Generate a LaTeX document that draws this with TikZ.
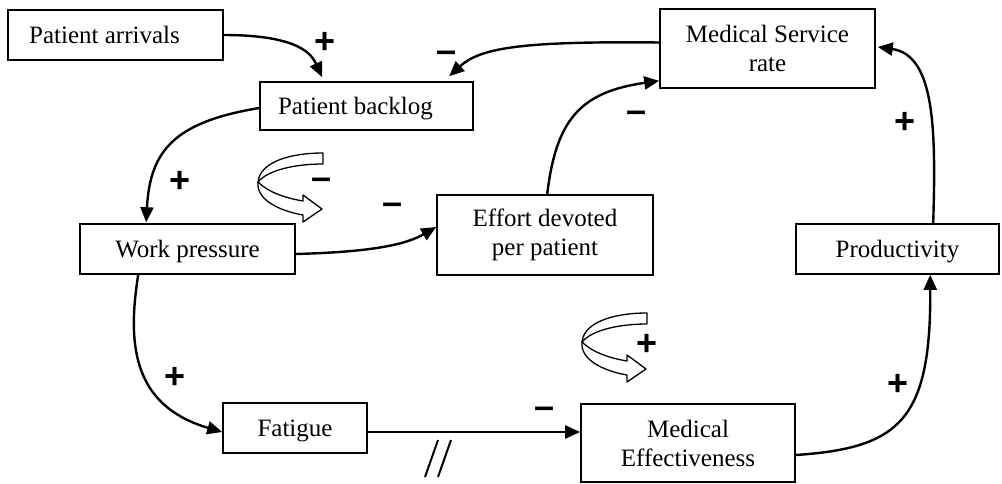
\documentclass[tikz,border=0pt]{standalone}
\usepackage{fontspec}
\setmainfont{Liberation Serif}
\newfontfamily\signfont{Liberation Sans}
\usetikzlibrary{arrows.meta,calc}
\begin{document}
\begin{tikzpicture}[x=1pt,y=-1pt,
  box/.style={draw, line width=1.6pt, inner sep=0pt, align=center, font=\fontsize{25}{29}\selectfont},
  onel/.style={text height=17pt, text depth=0pt},
  conn/.style={line width=2.4pt, -{Triangle[length=15pt,width=13pt]}},
  sgn/.style={font=\signfont\bfseries\fontsize{36}{36}\selectfont, inner sep=0pt},
  slash/.style={line width=2pt},
  loopicon/.pic={
    \draw[line width=1.3pt, fill=white, line join=round]
      (65,-29) -- (65,-18) .. controls (37,-18) and (10,-12) .. (0,0)
      .. controls (2,-20) and (32,-29) .. cycle;
    \draw[line width=1.3pt, fill=white, line join=round]
      (0,0) .. controls (10,10) and (27,16) .. (45,19) -- (45,13) -- (64,27)
      -- (45,40) -- (45,33) .. controls (22,29) and (-2,18) .. cycle;
  }]
\useasboundingbox (0,0) rectangle (1002,483);

% boxes
\node[box, onel, minimum width=215pt, minimum height=50pt] (pa) at (115.5,35) {Patient arrivals\hspace{22pt}};
\node[box, onel, minimum width=213pt, minimum height=48pt] (pb) at (366.5,106) {Patient backlog\hspace{22pt}};
\node[box, minimum width=215pt, minimum height=79pt] (msr) at (767.5,48.5) {Medical Service\\rate};
\node[box, onel, minimum width=215pt, minimum height=50pt] (wp) at (187.5,249) {Work pressure};
\node[box, minimum width=216pt, minimum height=80pt] (ef) at (545,235) {Effort devoted\\per patient};
\node[box, onel, minimum width=203pt, minimum height=50pt] (pr) at (897.5,249) {Productivity};
\node[box, onel, minimum width=144pt, minimum height=50pt] (fa) at (295,428) {Fatigue};
\node[box, minimum width=214pt, minimum height=78pt] (me) at (688,443) {Medical\\Effectiveness};

% connectors
\draw[conn] (pa.east) .. controls (300,35) and (312,55) .. ($(pb.north west)+(63,-4)$);
\draw[conn] ($(msr.west)+(0,-6)$) .. controls (520,41) and (480,48) .. ($(pb.north west)+(190,-5)$);
\draw[conn] ($(ef.north west)+(111,0)$) .. controls (556,120) and (580,92) .. ($(msr.south west)+(0,-8)$);
\draw[conn] ($(pb.west)+(0,2)$) .. controls (175,122) and (150,150) .. ($(wp.north west)+(67,-1)$);
\draw[conn] ($(wp.east)+(0,5)$) .. controls (370,252) and (405,245) .. ($(ef.west)+(0,-8)$);
\draw[conn] ($(wp.south west)+(59,0)$) .. controls (128,340) and (130,405) .. ($(fa.west)+(0,4)$);
\draw[conn] ($(fa.east)+(0,4)$) -- ($(me.west)+(0,-11)$);
\draw[conn] ($(me.east)+(0,12)$) .. controls (900,448) and (931,420) .. ($(pr.south west)+(135,0)$);
\draw[conn] ($(pr.north west)+(138,0)$) .. controls (936,130) and (935,55) .. ($(msr.east)+(2,-1.5)$);

% delay mark
\draw[slash] (425,477) -- (438,440);
\draw[slash] (438,477) -- (451,440);

% loop icons
\pic at (258,182) {loopicon};
\pic at (582,342) {loopicon};

% signs
\node[sgn] (s1) at (325,43) {+};
\node[sgn] (s2) at (447,57) {–};
\node[sgn] (s3) at (637,117) {–};
\node[sgn] (s4) at (180,182) {+};
\node[sgn] (s5) at (322,184) {–};
\node[sgn] (s6) at (393,209) {–};
\node[sgn] (s7) at (175,378) {+};
\node[sgn] (s8) at (545,413) {–};
\node[sgn] (s9) at (647,345) {+};
\node[sgn] (s10) at (898,385) {+};
\node[sgn] (s11) at (905,123) {+};
\end{tikzpicture}
\end{document}
